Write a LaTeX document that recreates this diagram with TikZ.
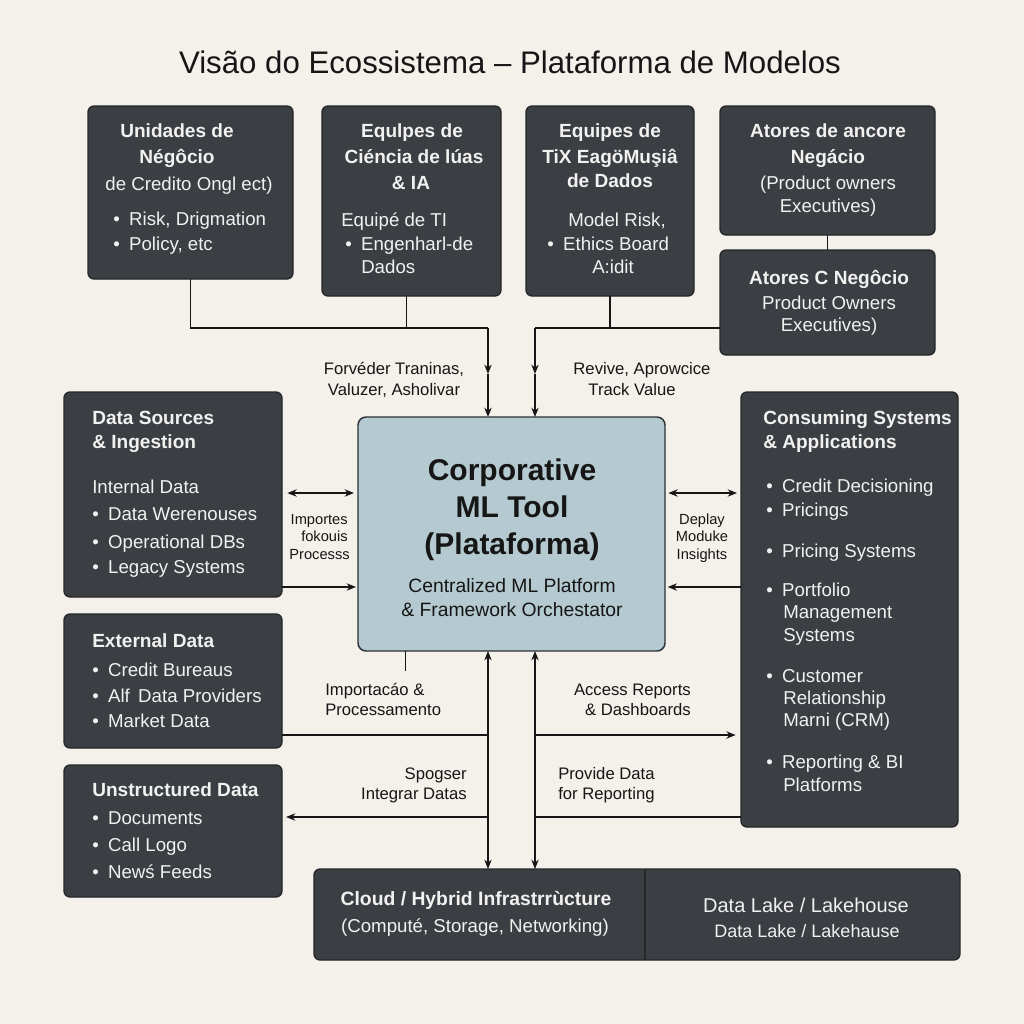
\documentclass[tikz,border=0pt]{standalone}
\usepackage{fontspec}
\setmainfont{Liberation Sans}
\usetikzlibrary{arrows.meta,calc,fit}
\definecolor{paper}{HTML}{F4F1EB}
\definecolor{boxfill}{HTML}{3B3E43}
\definecolor{boxedge}{HTML}{25272A}
\definecolor{corefill}{HTML}{B4C9D0}
\definecolor{coreedge}{HTML}{2C3236}
\definecolor{boxtext}{HTML}{F1F1F0}
\definecolor{ink}{HTML}{161616}
\newcommand\itembul{\textbullet\hspace{7pt}}
\begin{document}
\begin{tikzpicture}[x=0.75pt,y=-0.75pt,
  darkbox/.style={draw=boxedge,fill=boxfill,line width=1pt,rounded corners=4.5pt,inner sep=0pt,outer sep=0pt},
  corebox/.style={draw=coreedge,fill=corefill,line width=1.1pt,rounded corners=6pt,inner sep=0pt,outer sep=0pt},
  conn/.style={draw=ink,line width=1.1pt},
  arr/.style={-{Stealth[length=7pt,width=5.5pt]}},
  dbl/.style={{Stealth[length=7pt,width=5.5pt]}-{Stealth[length=7pt,width=5.5pt]}},
  ttl/.style={font=\fontsize{14.3}{16}\selectfont\bfseries,text=boxtext,inner sep=0pt,yshift=-2.6pt},
  txt/.style={font=\fontsize{14}{16}\selectfont,text=boxtext,inner sep=0pt,yshift=-2.6pt},
  lbl/.style={font=\fontsize{12.5}{14}\selectfont,text=ink,inner sep=0pt,yshift=-2.4pt},
  slbl/.style={font=\fontsize{11}{13}\selectfont,text=ink,inner sep=0pt,yshift=-2pt},
  coretitle/.style={font=\fontsize{22.5}{26}\selectfont\bfseries,text=ink,inner sep=0pt,yshift=-4.5pt},
  coresub/.style={font=\fontsize{14.5}{17}\selectfont,text=ink,inner sep=0pt,yshift=-2.6pt}]
\fill[paper] (0,0) rectangle (1024,1024);
\useasboundingbox (0,0) rectangle (1024,1024);

% heading
\node[font=\fontsize{23.4}{28}\selectfont,text=ink,inner sep=0pt] (title) at (510,62) {Visão do Ecossistema – Plataforma de Modelos};

% boxes
\node[darkbox,fit={(88,106)(293,279)}] (unid) {};
\node[darkbox,fit={(322,106)(501,296)}] (cien) {};
\node[darkbox,fit={(526,106)(694,296)}] (tix) {};
\node[darkbox,fit={(720,106)(935,235)}] (ator1) {};
\node[darkbox,fit={(720,250)(935,355)}] (ator2) {};
\node[corebox,fit={(358,417)(665,651)}] (core) {};
\node[darkbox,fit={(64,392)(282,597)}] (src) {};
\node[darkbox,fit={(64,614)(282,748)}] (ext) {};
\node[darkbox,fit={(64,765)(282,897)}] (uns) {};
\node[darkbox,fit={(741,392)(958,827)}] (cons) {};
\node[darkbox,fit={(314,869)(960,960)}] (infra) {};
\coordinate (dv) at (645,0);
\draw[draw=boxedge,line width=1pt] (infra.north -| dv) -- (infra.south -| dv);

% junction points
\coordinate (jL) at (488,328);
\coordinate (jR) at (535,328);
\coordinate (mL) at (488,374);
\coordinate (mR) at (535,374);
\coordinate (yA) at (0,493);
\coordinate (yB) at (0,587);
\coordinate (yC) at (0,735);
\coordinate (yD) at (0,817);
\coordinate (cienout) at ($(cien.south)+(-5,0)$);
\coordinate (stub) at ($(core.south)+(-106,0)$);

% top connectors
\draw[conn] (unid.south) |- (jL);
\draw[conn] (cienout) -- (cienout |- jL);
\draw[conn,arr] (jL) -- (mL);
\draw[conn,arr] (mL) -- (mL |- core.north);
\draw[conn] (tix.south) -- (tix.south |- jR);
\draw[conn] (ator2.west |- jR) -- (jR);
\draw[conn,arr] (jR) -- (mR);
\draw[conn,arr] (mR) -- (mR |- core.north);
\draw[conn] (ator1.south) -- (ator2.north);

% side connectors
\draw[conn,dbl,shorten <=4pt,shorten >=3pt] (src.east |- yA) -- (core.west |- yA);
\draw[conn,arr,shorten >=1.5pt] (src.east |- yB) -- (core.west |- yB);
\draw[conn,dbl,shorten <=2.5pt,shorten >=3pt] (core.east |- yA) -- (cons.west |- yA);
\draw[conn,arr,shorten >=2pt] (cons.west |- yB) -- (core.east |- yB);

% lower connectors
\draw[conn] (stub) -- ++(0,20);
\draw[conn,dbl] (jL |- core.south) -- (jL |- infra.north);
\draw[conn,dbl] (jR |- core.south) -- (jR |- infra.north);
\draw[conn] (ext.east |- yC) -- (jL |- yC);
\draw[conn,arr,shorten >=4pt] (jR |- yC) -- (cons.west |- yC);
\draw[conn,arr,shorten >=3pt] (jL |- yD) -- (uns.east |- yD);
\draw[conn] (jR |- yD) -- (cons.west |- yD);

% connector labels
\node[lbl,anchor=mid] (l1a) at (394,368) {Forvéder Traninas,};
\node[lbl,anchor=mid] (l1b) at (394,389) {Valuzer, Asholivar};
\node[lbl,anchor=mid] (l2a) at (642,368) {Revive, Aprowcice};
\node[lbl,anchor=mid] (l2b) at (632,389) {Track Value};
\node[slbl,anchor=mid east] (l3a) at (348,518) {Importes};
\node[slbl,anchor=mid east] (l3b) at (348,535) {fokouis};
\node[slbl,anchor=mid east] (l3c) at (350,553) {Processs};
\node[slbl,anchor=mid] (l4a) at (702,518) {Deplay};
\node[slbl,anchor=mid] (l4b) at (702,535) {Moduke};
\node[slbl,anchor=mid] (l4c) at (702,553) {Insights};
\node[lbl,anchor=mid west] (l5a) at (325,689) {Importacáo \&};
\node[lbl,anchor=mid west] (l5b) at (325,709) {Processamento};
\node[lbl,anchor=mid east] (l6a) at (691,689) {Access Reports};
\node[lbl,anchor=mid east] (l6b) at (691,709) {\& Dashboards};
\node[lbl,anchor=mid east] (l7a) at (467,773) {Spogser};
\node[lbl,anchor=mid east] (l7b) at (467,793) {Integrar Datas};
\node[lbl,anchor=mid west] (l8a) at (558,773) {Provide Data};
\node[lbl,anchor=mid west] (l8b) at (558,793) {for Reporting};

% box texts: business units
\node[ttl,anchor=mid] (u1) at (177,131) {Unidades de};
\node[ttl,anchor=mid] (u2) at (177,157) {Négôcio};
\node[txt,anchor=mid] (u3) at (189,184) {de Credito Ongl ect)};
\node[txt,anchor=mid west] (u4) at (113,219) {\itembul Risk, Drigmation};
\node[txt,anchor=mid west] (u5) at (113,244) {\itembul Policy, etc};

% data science teams
\node[ttl,anchor=mid] (c1) at (412,131) {Equlpes de};
\node[ttl,anchor=mid] (c2) at (414,157) {Ciéncia de lúas};
\node[ttl,anchor=mid] (c3) at (411,183) {\& IA};
\node[txt,anchor=mid west] (c4) at (341,220) {Equipé de TI};
\node[txt,anchor=mid west] (c5) at (345,244) {\itembul Engenharl-de};
\node[txt,anchor=mid west] (c6) at (361,267) {Dados};

% data engineering teams
\node[ttl,anchor=mid] (t1) at (610,131) {Equipes de};
\node[ttl,anchor=mid] (t2) at (610,157) {TiX EagöMuşiâ};
\node[ttl,anchor=mid] (t3) at (610,181) {de Dados};
\node[txt,anchor=mid west] (t4) at (568,220) {Model Risk,};
\node[txt,anchor=mid west] (t5) at (547,244) {\itembul Ethics Board};
\node[txt,anchor=mid west] (t6) at (592,267) {A:idit};

% business actors
\node[ttl,anchor=mid] (a1) at (828,131) {Atores de ancore};
\node[ttl,anchor=mid] (a2) at (828,157) {Negácio};
\node[txt,anchor=mid] (a3) at (828,183) {(Product owners};
\node[txt,anchor=mid] (a4) at (828,206) {Executives)};
\node[ttl,anchor=mid] (b1) at (829,278) {Atores C Negôcio};
\node[txt,anchor=mid] (b2) at (829,303) {Product Owners};
\node[txt,anchor=mid] (b3) at (829,325) {Executives)};

% platform core
\node[coretitle,anchor=mid] (k1) at (512,471) {Corporative};
\node[coretitle,anchor=mid] (k2) at (512,508) {ML Tool};
\node[coretitle,anchor=mid] (k3) at (512,545) {(Plataforma)};
\node[coresub,anchor=mid] (k4) at (512,586) {Centralized ML Platform};
\node[coresub,anchor=mid] (k5) at (512,610) {\& Framework Orchestator};

% data sources
\node[ttl,anchor=mid west] (s1) at (92,418) {Data Sources};
\node[ttl,anchor=mid west] (s2) at (92,442) {\& Ingestion};
\node[txt,anchor=mid west] (s3) at (92,487) {Internal Data};
\node[txt,anchor=mid west] (s4) at (92,514) {\itembul Data Werenouses};
\node[txt,anchor=mid west] (s5) at (92,542) {\itembul Operational DBs};
\node[txt,anchor=mid west] (s6) at (92,567) {\itembul Legacy Systems};

% external data
\node[ttl,anchor=mid west] (e1) at (92,641) {External Data};
\node[txt,anchor=mid west] (e2) at (92,670) {\itembul Credit Bureaus};
\node[txt,anchor=mid west] (e3) at (92,696) {\itembul Alf\, Data Providers};
\node[txt,anchor=mid west] (e4) at (92,721) {\itembul Market Data};

% unstructured data
\node[ttl,anchor=mid west] (n1) at (92,790) {Unstructured Data};
\node[txt,anchor=mid west] (n2) at (92,818) {\itembul Documents};
\node[txt,anchor=mid west] (n3) at (92,845) {\itembul Call Logo};
\node[txt,anchor=mid west] (n4) at (92,872) {\itembul Newś Feeds};

% consuming systems
\node[ttl,anchor=mid west] (o1) at (763,418) {Consuming Systems};
\node[ttl,anchor=mid west] (o2) at (763,442) {\& Applications};
\node[txt,anchor=mid west] (o3) at (766,486) {\itembul Credit Decisioning};
\node[txt,anchor=mid west] (o4) at (766,510) {\itembul Pricings};
\node[txt,anchor=mid west] (o5) at (766,551) {\itembul Pricing Systems};
\node[txt,anchor=mid west] (o6) at (766,590) {\itembul Portfolio};
\node[txt,anchor=mid west] (o7) at (783,612) {Management};
\node[txt,anchor=mid west] (o8) at (783,635) {Systems};
\node[txt,anchor=mid west] (o9) at (766,676) {\itembul Customer};
\node[txt,anchor=mid west] (o10) at (783,698) {Relationship};
\node[txt,anchor=mid west] (o11) at (783,720) {Marni (CRM)};
\node[txt,anchor=mid west] (o12) at (766,762) {\itembul Reporting \& BI};
\node[txt,anchor=mid west] (o13) at (783,785) {Platforms};

% infrastructure
\node[ttl,anchor=mid,font=\fontsize{14.5}{17}\selectfont\bfseries] (i1) at (476,898) {Cloud / Hybrid Infrastrrùcture};
\node[txt,anchor=mid] (i2) at (475,926) {(Computé, Storage, Networking)};
\node[txt,anchor=mid,font=\fontsize{15}{17}\selectfont] (i3) at (806,906) {Data Lake / Lakehouse};
\node[txt,anchor=mid,font=\fontsize{13.5}{16}\selectfont] (i4) at (807,931) {Data Lake / Lakehause};
\end{tikzpicture}
\end{document}
